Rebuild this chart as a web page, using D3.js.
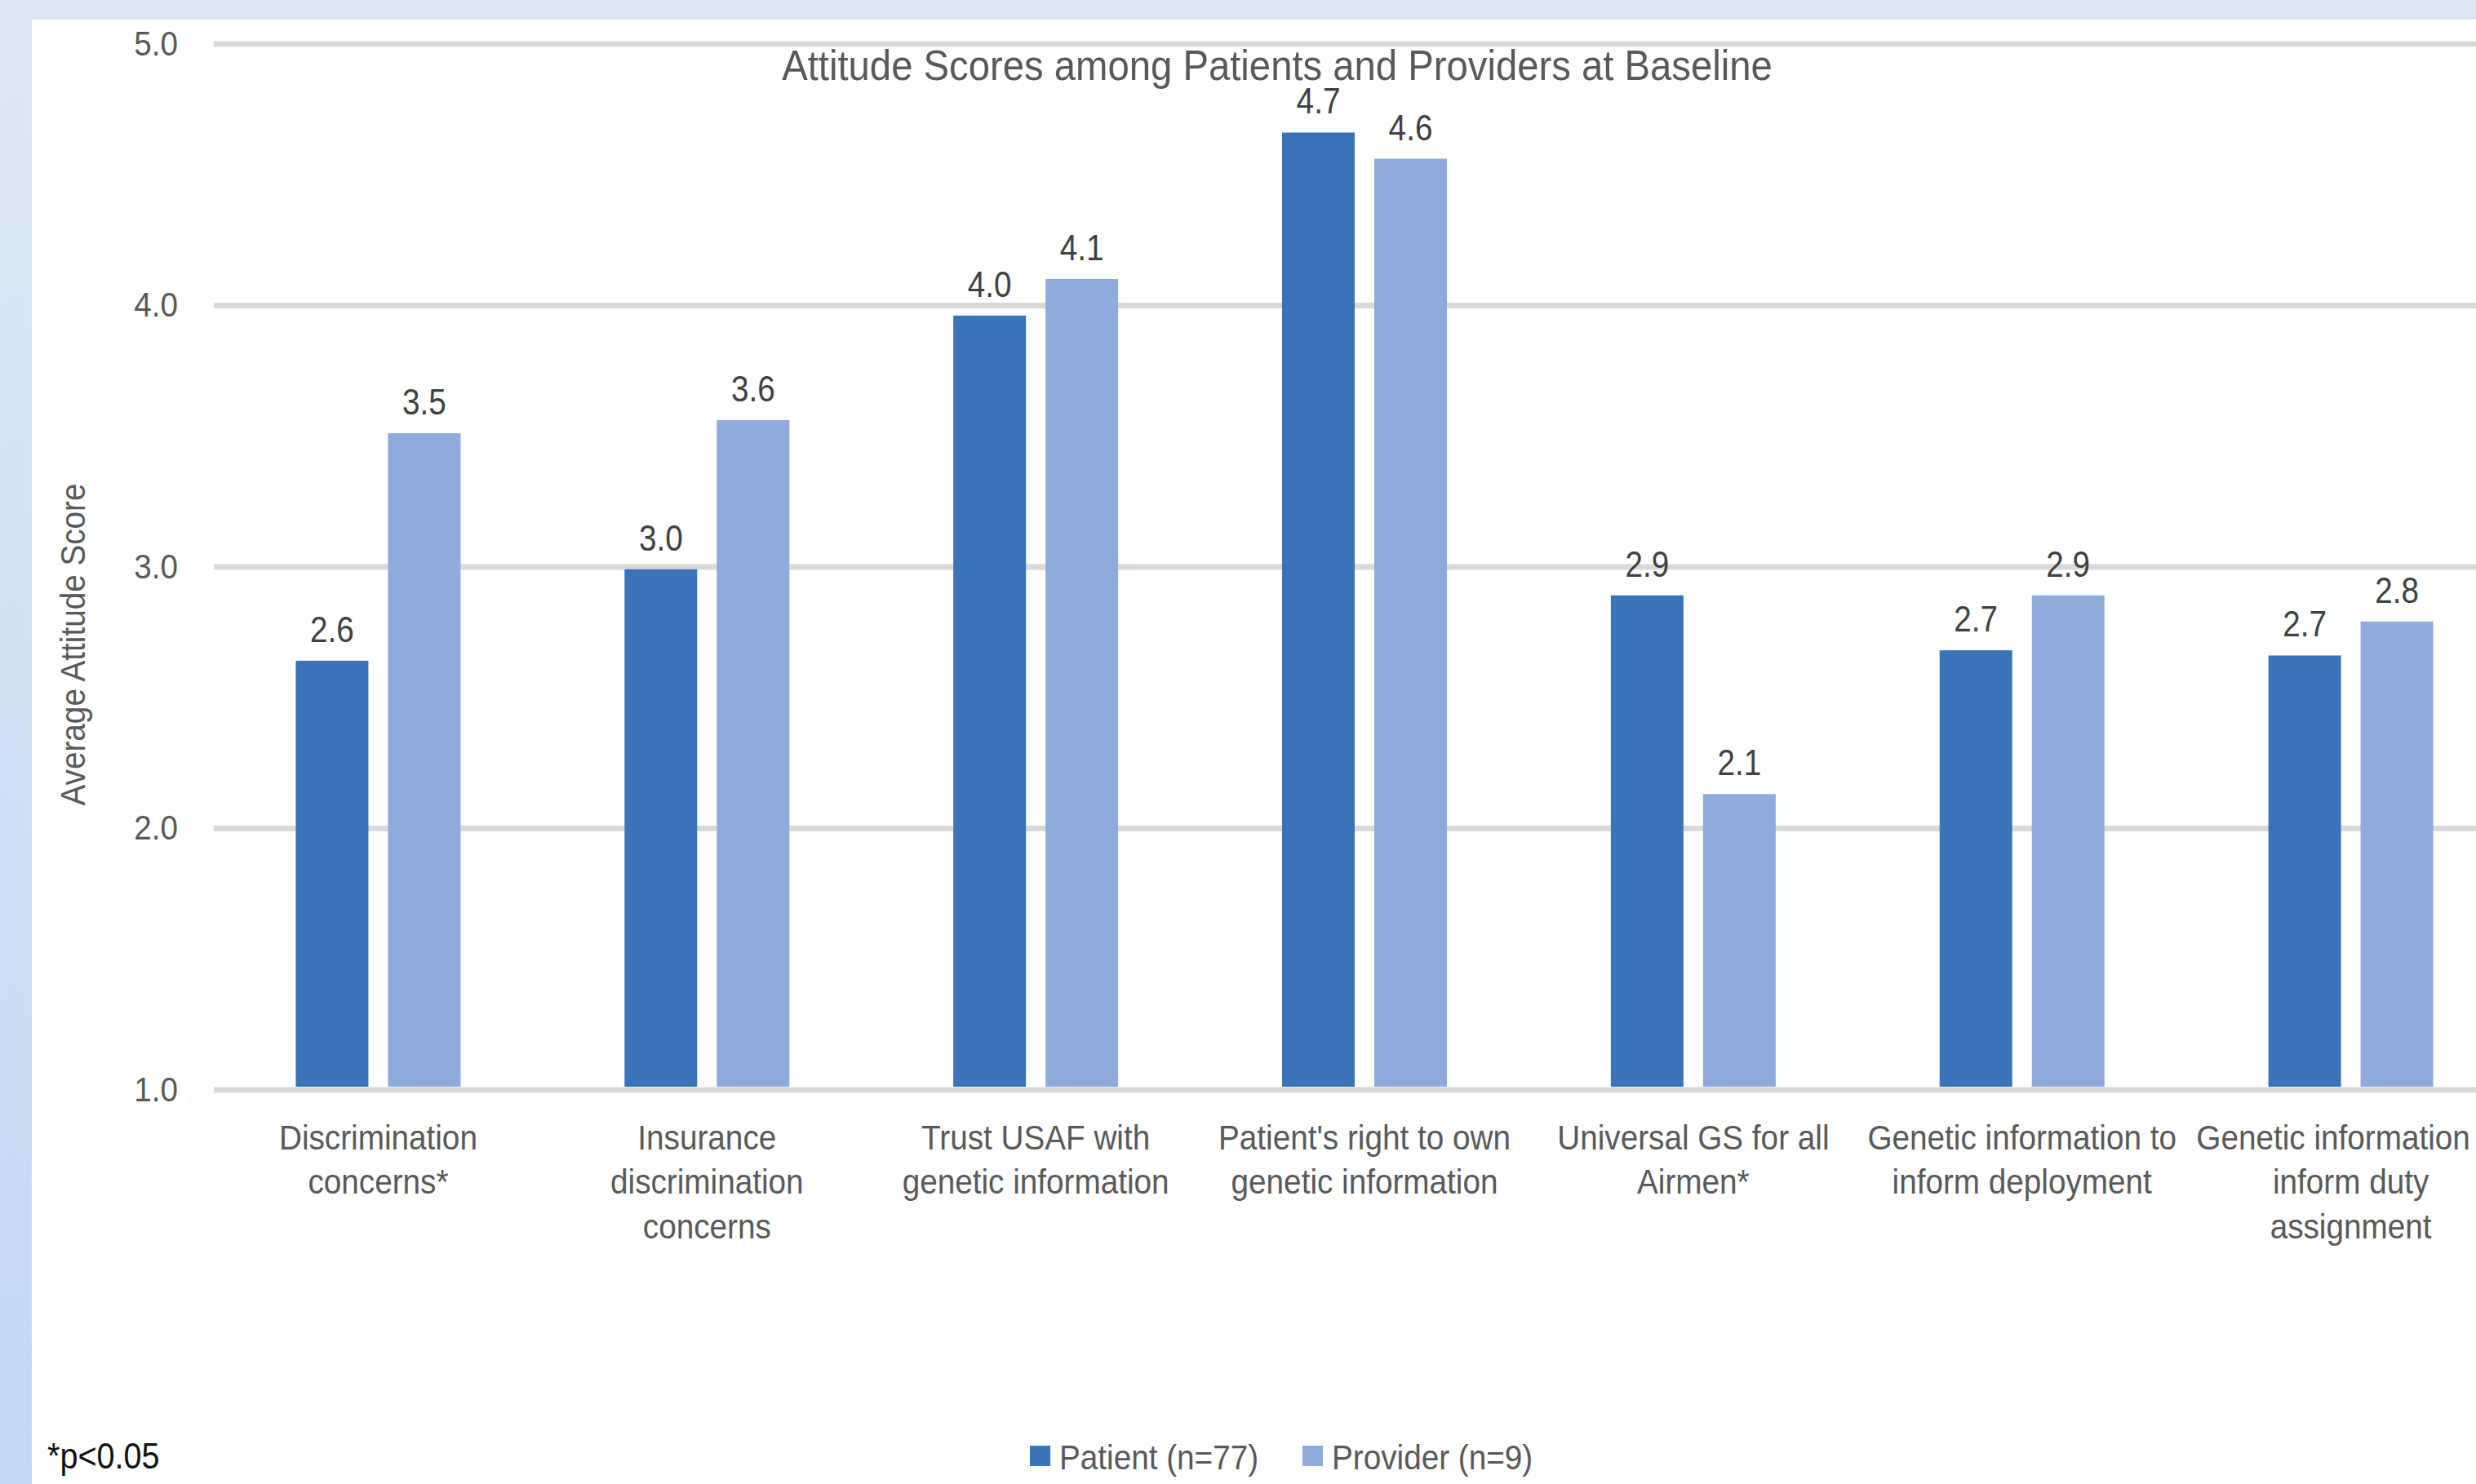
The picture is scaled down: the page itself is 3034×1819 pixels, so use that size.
<!DOCTYPE html>
<html>
<head>
<meta charset="utf-8">
<script src="https://cdn.jsdelivr.net/npm/d3@7"></script>
<style>
	html, body { margin: 0; padding: 0; background: #fff; overflow: hidden; }
	svg { display: block; }
	text { font-family: "Liberation Sans", Arial, sans-serif; }
</style>
</head>
<body>
<div id="chart"></div>
<script>
// -----DONNÉES-----
var categories = [
	"Discrimination concerns*",
	"Insurance discrimination concerns",
	"Trust USAF with genetic information",
	"Patient's right to own genetic information",
	"Universal GS for all Airmen*",
	"Genetic information to inform deployment",
	"Genetic information to inform duty assignment"
];
// retours à la ligne comme dans l'original
var categoryLines = [
	["Discrimination", "concerns*"],
	["Insurance", "discrimination", "concerns"],
	["Trust USAF with", "genetic information"],
	["Patient's right to own", "genetic information"],
	["Universal GS for all", "Airmen*"],
	["Genetic information to", "inform deployment"],
	["Genetic information to", "inform duty", "assignment"]
];
var series = ["Patient (n=77)", "Provider (n=9)"];
var patient = [2.64, 2.99, 3.96, 4.66, 2.89, 2.68, 2.66];
var provider = [3.51, 3.56, 4.10, 4.56, 2.13, 2.89, 2.79];
var yTicks = [1, 2, 3, 4, 5];
var colors = ["#3b73b9", "#8faadc"];

// -----DIMENSIONS-----
var width = 3034,
	height = 1819,
	plotLeft = 262,
	plotRight = 3082, // le graphique original déborde à droite
	plotTop = 53.5,
	plotBottom = 1335.5,
	squeeze = 0.9; // le texte de l'original est un peu condensé

var svg = d3.select("#chart").append("svg")
	.attr("width", width)
	.attr("height", height);

// fond + cadre bleu
var defs = svg.append("defs");
var grad = defs.append("linearGradient").attr("id", "bord")
	.attr("x1", 0).attr("y1", 0).attr("x2", 0).attr("y2", 1);
grad.append("stop").attr("offset", 0).attr("stop-color", "#dde8f6");
grad.append("stop").attr("offset", 1).attr("stop-color", "#c1d8f1");

svg.append("rect").attr("width", width).attr("height", height).attr("fill", "#fff");
svg.append("rect").attr("width", width).attr("height", 24).attr("fill", "#dde8f6");
svg.append("rect").attr("width", 39).attr("height", height).attr("fill", "url(#bord)");

// -----ÉCHELLES-----
var y = d3.scaleLinear().domain([1, 5]).range([plotBottom, plotTop]);

var x0 = d3.scaleBand()
	.domain(categories)
	.range([plotLeft, plotRight])
	.paddingInner(0.4986)
	.paddingOuter(0.2493);

var x1 = d3.scaleBand()
	.domain(series)
	.range([0, x0.bandwidth()])
	.paddingInner(0.2124);

var color = d3.scaleOrdinal().domain(series).range(colors);

// -----AXE Y + grille-----
var gy = svg.append("g")
	.attr("transform", "translate(" + plotLeft + ",0)")
	.call(d3.axisLeft(y)
		.tickValues(yTicks)
		.tickFormat(d3.format(".1f"))
		.tickSizeInner(-(width - plotLeft))
		.tickSizeOuter(0)
		.tickPadding(44));
gy.select(".domain").remove();
gy.selectAll(".tick line").attr("stroke", "#d9d9d9").attr("stroke-width", 7);
gy.selectAll(".tick text")
	.attr("fill", "#595959")
	.attr("font-size", 43)
	.attr("font-family", "Liberation Sans, Arial, sans-serif")
	.attr("x", -44 / squeeze)
	.attr("transform", "scale(" + squeeze + ",1)");

// -----BARRES-----
var rows = categories.map(function (c, i) {
	return { cat: c, values: [
		{ key: series[0], value: patient[i] },
		{ key: series[1], value: provider[i] }
	] };
});

var groupes = svg.append("g").selectAll("g")
	.data(rows)
	.enter().append("g")
	.attr("transform", function (d) { return "translate(" + x0(d.cat) + ",0)"; });

groupes.selectAll("rect")
	.data(function (d) { return d.values; })
	.enter().append("rect")
	.attr("x", function (d) { return x1(d.key); })
	.attr("y", function (d) { return y(d.value); })
	.attr("width", x1.bandwidth())
	.attr("height", function (d) { return y(1) - y(d.value) - 3.5; })
	.attr("fill", function (d) { return color(d.key); });

// étiquettes de valeurs
groupes.selectAll("text.val")
	.data(function (d) { return d.values; })
	.enter().append("text")
	.attr("class", "val")
	.attr("transform", function (d) {
		return "translate(" + (x1(d.key) + x1.bandwidth() / 2) + "," + (y(d.value) - 23) + ") scale(0.86,1)";
	})
	.attr("text-anchor", "middle")
	.attr("font-size", 45)
	.attr("fill", "#404040")
	.text(function (d) { return d3.format(".1f")(d.value); });

// -----AXE X-----
var gx = svg.append("g")
	.attr("transform", "translate(0," + plotBottom + ")")
	.call(d3.axisBottom(x0).tickSize(0).tickFormat(""));
gx.select(".domain").remove();
gx.selectAll(".tick").each(function (c) {
	var lines = categoryLines[categories.indexOf(c)];
	var t = d3.select(this).append("text")
		.attr("transform", "scale(" + squeeze + ",1)")
		.attr("text-anchor", "middle")
		.attr("font-size", 43)
		.attr("font-family", "Liberation Sans, Arial, sans-serif")
		.attr("fill", "#595959");
	lines.forEach(function (l, i) {
		t.append("tspan").attr("x", 0).attr("y", 73.5 + i * 54.5).text(l);
	});
});

// -----TITRES-----
svg.append("text")
	.attr("transform", "translate(1565,98) scale(0.927,1)")
	.attr("text-anchor", "middle")
	.attr("font-size", 51)
	.attr("fill", "#595959")
	.text("Attitude Scores among Patients and Providers at Baseline");

svg.append("text")
	.attr("transform", "translate(104,790) rotate(-90) scale(" + squeeze + ",1)")
	.attr("text-anchor", "middle")
	.attr("font-size", 43)
	.attr("fill", "#595959")
	.text("Average Attitude Score");

// -----LÉGENDE-----
var legendX = [1262, 1596];
var legende = svg.append("g").selectAll("g")
	.data(series)
	.enter().append("g")
	.attr("transform", function (d, i) { return "translate(" + legendX[i] + ",1772)"; });
legende.append("rect")
	.attr("width", 25).attr("height", 25)
	.attr("fill", function (d) { return color(d); });
legende.append("text")
	.attr("transform", "translate(36,29) scale(" + squeeze + ",1)")
	.attr("font-size", 43)
	.attr("fill", "#595959")
	.text(function (d) { return d; });

// note
svg.append("text")
	.attr("transform", "translate(58,1800) scale(" + squeeze + ",1)")
	.attr("font-size", 44)
	.attr("fill", "#111")
	.text("*p<0.05");
</script>
</body>
</html>
